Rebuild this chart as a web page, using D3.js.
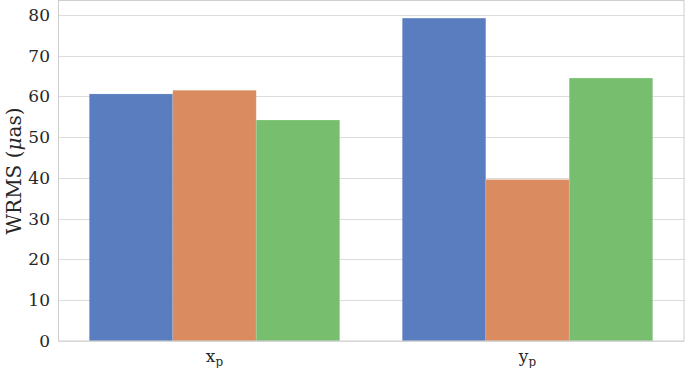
<!DOCTYPE html>
<html>
<head>
<meta charset="utf-8">
<script src="https://cdn.jsdelivr.net/npm/d3@7"></script>
<style>
  body { margin: 0; background: #fff; }
  svg text { font-family: "DejaVu Serif", serif; fill: #262626; }
</style>
</head>
<body>
<svg id="chart"></svg>
<script>
const categories = ["x", "y"];
const series = ["s1", "s2", "s3"];
const values = {
    s1: [60.6, 79.2],
    s2: [61.5, 39.6],
    s3: [54.2, 64.5]
};
const yTicks = [0, 10, 20, 30, 40, 50, 60, 70, 80];

const COLORS = { s1: "#5a7dc0", s2: "#da8b5f", s3: "#77bf6f" };

const W = 685, H = 368;
const margin = { top: 1, right: 1, bottom: 27, left: 58 };
const innerW = W - margin.left - margin.right;
const innerH = H - margin.top - margin.bottom;

const svg = d3.select("#chart")
    .attr("width", W)
    .attr("height", H);

const g = svg.append("g")
    .attr("transform", `translate(${margin.left},${margin.top})`);

const x0 = d3.scaleBand()
    .domain(categories)
    .range([0, innerW])
    .paddingInner(0.2)
    .paddingOuter(0.1);

const x1 = d3.scaleBand()
    .domain(series)
    .range([0, x0.bandwidth()]);

const y = d3.scaleLinear()
    .domain([0, 83.4])
    .range([innerH, 0]);

// grid
g.append("g")
    .selectAll("line")
    .data(yTicks)
    .join("line")
    .attr("x1", 0)
    .attr("x2", innerW)
    .attr("y1", d => Math.round(y(d)) + 0.5)
    .attr("y2", d => Math.round(y(d)) + 0.5)
    .attr("stroke", "#dcdcdc")
    .attr("stroke-width", 1);

// bars
categories.forEach((c, i) => {
    series.forEach(s => {
        g.append("rect")
            .attr("x", x0(c) + x1(s))
            .attr("y", y(values[s][i]))
            .attr("width", x1.bandwidth())
            .attr("height", innerH - y(values[s][i]))
            .attr("fill", COLORS[s])
            .attr("stroke", "#ffffff")
            .attr("stroke-opacity", 0.12)
            .attr("stroke-width", 1);
    });
});

// frame
g.append("rect")
    .attr("x", 0.5)
    .attr("y", -0.5)
    .attr("width", innerW - 0.5)
    .attr("height", innerH + 0.5)
    .attr("fill", "none")
    .attr("stroke", "#cfcfcf")
    .attr("stroke-width", 1);

// y axis labels
const yAxis = g.append("g")
    .call(d3.axisLeft(y).tickValues(yTicks).tickSize(0).tickPadding(8));
yAxis.attr("font-family", null);
yAxis.select(".domain").remove();
yAxis.selectAll("text")
    .style("font-size", "17px")
    .attr("fill", "#262626");

// x axis labels with subscript
const xAxis = g.append("g")
    .attr("transform", `translate(0,${innerH})`);
categories.forEach(c => {
    const t = xAxis.append("text")
        .attr("x", x0(c) + x0.bandwidth() / 2)
        .attr("y", 21)
        .attr("text-anchor", "middle")
        .style("font-size", "17px");
    t.append("tspan").text(c);
    t.append("tspan")
        .attr("dy", 4)
        .style("font-size", "12px")
        .text("p");
});

// y title
const yt = svg.append("text")
    .attr("transform", `translate(21,${margin.top + innerH / 2}) rotate(-90)`)
    .attr("text-anchor", "middle")
    .style("font-size", "20px");
yt.append("tspan").text("WRMS (");
yt.append("tspan").style("font-style", "italic").text("μ");
yt.append("tspan").text("as)");
</script>
</body>
</html>
